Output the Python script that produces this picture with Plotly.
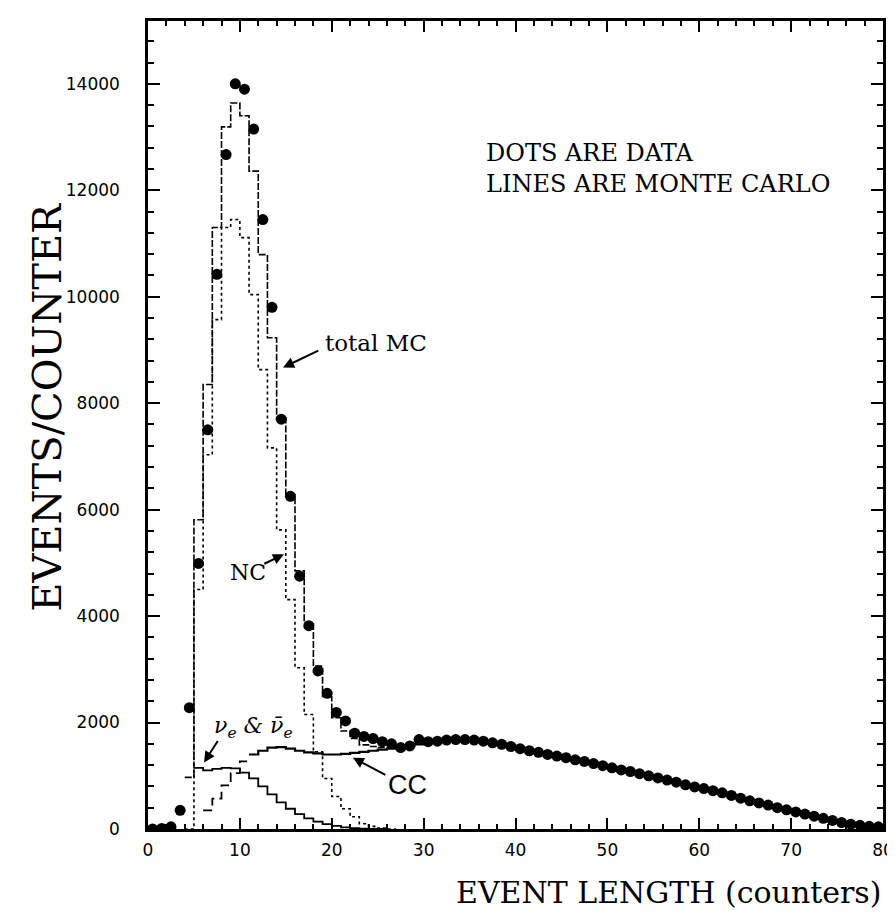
import plotly.graph_objects as go

# ---------------- data (bin centres 0.5 ... 79.5, counters) ----------------
bin_left = list(range(0, 80))            # histogram bin left edges
bin_center = [b + 0.5 for b in bin_left]

data_events = [
    0, 10, 40, 350, 2280, 4990, 7500, 10420, 12670, 14000,
    13900, 13150, 11450, 9800, 7700, 6250, 4750, 3820, 2970, 2550,
    2190, 2030, 1800, 1740, 1700, 1640, 1600, 1530, 1560, 1680,
    1640, 1650, 1670, 1680, 1680, 1670, 1650, 1620, 1590, 1550,
    1510, 1470, 1440, 1400, 1370, 1340, 1300, 1270, 1230, 1190,
    1150, 1110, 1080, 1040, 1000, 960, 920, 880, 830, 790,
    760, 720, 680, 630, 580, 530, 490, 450, 400, 360,
    320, 280, 240, 200, 160, 120, 90, 70, 50, 40,
]

nc_mc = [
    0, 0, 0, 0, 0, 4500, 7030, 9570, 11300, 11450,
    11110, 10040, 8630, 7160, 5620, 4310, 3030, 2150, 1450, 950,
    610, 380, 230, 100, 50, 20, 0, 0, 0, 0,
] + [0] * 50

nue_mc = [
    0, 0, 0, 0, 0, 1150, 1100, 1130, 1150, 1140,
    1060, 950, 800, 650, 500, 380, 280, 200, 140, 90,
    60, 30, 15, 5, 0, 0, 0, 0, 0, 0,
] + [0] * 50

cc_mc = [
    0, 0, 0, 0, 0, 0, 350, 570, 820, 1050,
    1270, 1400, 1470, 1530, 1540, 1510, 1470, 1440, 1420, 1400,
    1400, 1410, 1430, 1450, 1470, 1490, 1510, 1530, 1560, 1590,
    1620, 1640, 1660, 1670, 1670, 1660, 1640, 1620, 1590, 1550,
    1510, 1470, 1440, 1400, 1370, 1340, 1300, 1270, 1230, 1190,
    1150, 1110, 1080, 1040, 1000, 960, 920, 880, 830, 790,
    760, 720, 680, 630, 580, 530, 490, 450, 400, 360,
    320, 280, 240, 200, 160, 120, 90, 70, 50, 40,
]

total_mc = [
    0, 0, 0, 0, 970, 5810, 8350, 11300, 13190, 13640,
    13400, 12360, 10790, 9230, 7720, 6280, 4850, 3880, 3060, 2490,
    2090, 1840, 1700, 1580, 1550, 1530, 1530, 1540, 1570, 1600,
    1620, 1640, 1660, 1670, 1670, 1660, 1640, 1620, 1590, 1550,
    1510, 1470, 1440, 1400, 1370, 1340, 1300, 1270, 1230, 1190,
    1150, 1110, 1080, 1040, 1000, 960, 920, 880, 830, 790,
    760, 720, 680, 630, 580, 530, 490, 450, 400, 360,
    320, 280, 240, 200, 160, 120, 90, 70, 50, 40,
]

x_ticks = [0, 10, 20, 30, 40, 50, 60, 70, 80]
x_tick_text = ["0", "10", "20", "30", "40", "50", "60", "70", "80"]
y_ticks = [0, 2000, 4000, 6000, 8000, 10000, 12000, 14000]
y_tick_text = ["0", "2000", "4000", "6000", "8000", "10000", "12000", "14000"]


def steps(lefts, vals, lo, hi):
    """bins lo..hi-1 as an 'hv' step series (left edges + final right edge)"""
    xs = lefts[lo:hi] + [lefts[hi - 1] + 1]
    ys = vals[lo:hi] + [vals[hi - 1]]
    return xs, ys


fig = go.Figure()

# total MC (dashed)
xs, ys = steps(bin_left, total_mc, 4, 80)
fig.add_trace(go.Scatter(x=xs, y=ys, mode="lines", line_shape="hv",
                         line=dict(color="black", width=1.6, dash="7px,2px"),
                         name="total MC"))
# NC (dotted)
xs, ys = steps(bin_left, nc_mc, 4, 27)
fig.add_trace(go.Scatter(x=xs, y=ys, mode="lines", line_shape="hv",
                         line=dict(color="black", width=1.6, dash="3px,3px"),
                         name="NC"))
# nu_e (solid thin)
xs, ys = steps(bin_left, nue_mc, 5, 26)
fig.add_trace(go.Scatter(x=xs, y=ys, mode="lines", line_shape="hv",
                         line=dict(color="black", width=1.8),
                         name="nue"))
# CC low part (dashed) and main part (solid)
xs, ys = steps(bin_left, cc_mc, 6, 11)
fig.add_trace(go.Scatter(x=xs, y=ys, mode="lines", line_shape="hv",
                         line=dict(color="black", width=1.8, dash="9px,5px"),
                         name="CC low"))
xs, ys = steps(bin_left, cc_mc, 11, 80)
fig.add_trace(go.Scatter(x=xs, y=ys, mode="lines", line_shape="hv",
                         line=dict(color="black", width=2.2),
                         name="CC"))
# data dots
fig.add_trace(go.Scatter(x=bin_center, y=data_events, mode="markers",
                         marker=dict(color="black", size=11, symbol="circle"),
                         name="data"))

tickfont = dict(family="DejaVu Sans", size=17, color="black")
fig.update_xaxes(range=[0, 80], tickvals=x_ticks, ticktext=x_tick_text,
                 ticks="inside", ticklen=11,
                 tickwidth=2, tickcolor="black", showline=True, linewidth=2.5,
                 linecolor="black", mirror="ticks", showgrid=False, zeroline=False,
                 tickfont=tickfont, ticklabelstandoff=4,
                 minor=dict(dtick=2, ticks="inside", ticklen=5, tickwidth=2,
                            tickcolor="black", showgrid=False))
fig.update_yaxes(range=[0, 15180], tickvals=y_ticks, ticktext=y_tick_text,
                 ticks="inside", ticklen=12,
                 tickwidth=2, tickcolor="black", showline=True, linewidth=2.5,
                 linecolor="black", mirror="ticks", showgrid=False, zeroline=False,
                 tickfont=tickfont, ticklabelstandoff=22,
                 minor=dict(dtick=400, ticks="inside", ticklen=6, tickwidth=2,
                            tickcolor="black", showgrid=False))

serif = "DejaVu Serif"
ann = []
ann.append(dict(text="DOTS ARE DATA<br>LINES ARE MONTE CARLO", x=36.6, y=12400,
                xref="x", yref="y", xanchor="left", yanchor="middle", align="left",
                showarrow=False, font=dict(family=serif, size=24, color="black")))
ann.append(dict(text="total MC", x=19.1, y=9140, xref="x", yref="y",
                xanchor="left", yanchor="middle", showarrow=False,
                font=dict(family=serif, size=23, color="black")))
ann.append(dict(text="NC", x=10.9, y=4820, xref="x", yref="y",
                xanchor="center", yanchor="middle", showarrow=False,
                font=dict(family=serif, size=22, color="black")))
ann.append(dict(text="<i>ν<sub>e</sub> &amp; ν\u0304<sub>e</sub></i>", x=11.5, y=1900,
                xref="x", yref="y", xanchor="center", yanchor="middle",
                showarrow=False, font=dict(family=serif, size=22, color="black")))
ann.append(dict(text="CC", x=28.2, y=820, xref="x", yref="y",
                xanchor="center", yanchor="middle", showarrow=False,
                font=dict(family="Liberation Sans", size=27, color="black")))
# arrows
for (tx, ty, hx, hy) in [(18.7, 9000, 14.7, 8670), (12.5, 4970, 14.8, 5160),
                         (7.7, 1680, 6.1, 1250), (26.0, 1000, 22.3, 1340)]:
    ann.append(dict(text="", x=hx, y=hy, ax=tx, ay=ty, xref="x", yref="y",
                    axref="x", ayref="y", showarrow=True, arrowhead=2,
                    arrowsize=1.1, arrowwidth=2, arrowcolor="black"))
# axis titles
ann.append(dict(text="EVENTS/COUNTER", x=-0.137, y=0.523, xref="paper", yref="paper",
                textangle=-90, showarrow=False, xanchor="center", yanchor="middle",
                font=dict(family=serif, size=40, color="black")))
ann.append(dict(text="EVENT LENGTH (counters)", x=0.708, y=-0.079, xref="paper",
                yref="paper", showarrow=False, xanchor="center", yanchor="middle",
                font=dict(family=serif, size=30, color="black")))

fig.update_layout(width=895, height=912, plot_bgcolor="white", paper_bgcolor="white",
                  margin=dict(l=140, r=9, t=13, b=91), showlegend=False,
                  annotations=ann)

fig.write_html("out.html")
